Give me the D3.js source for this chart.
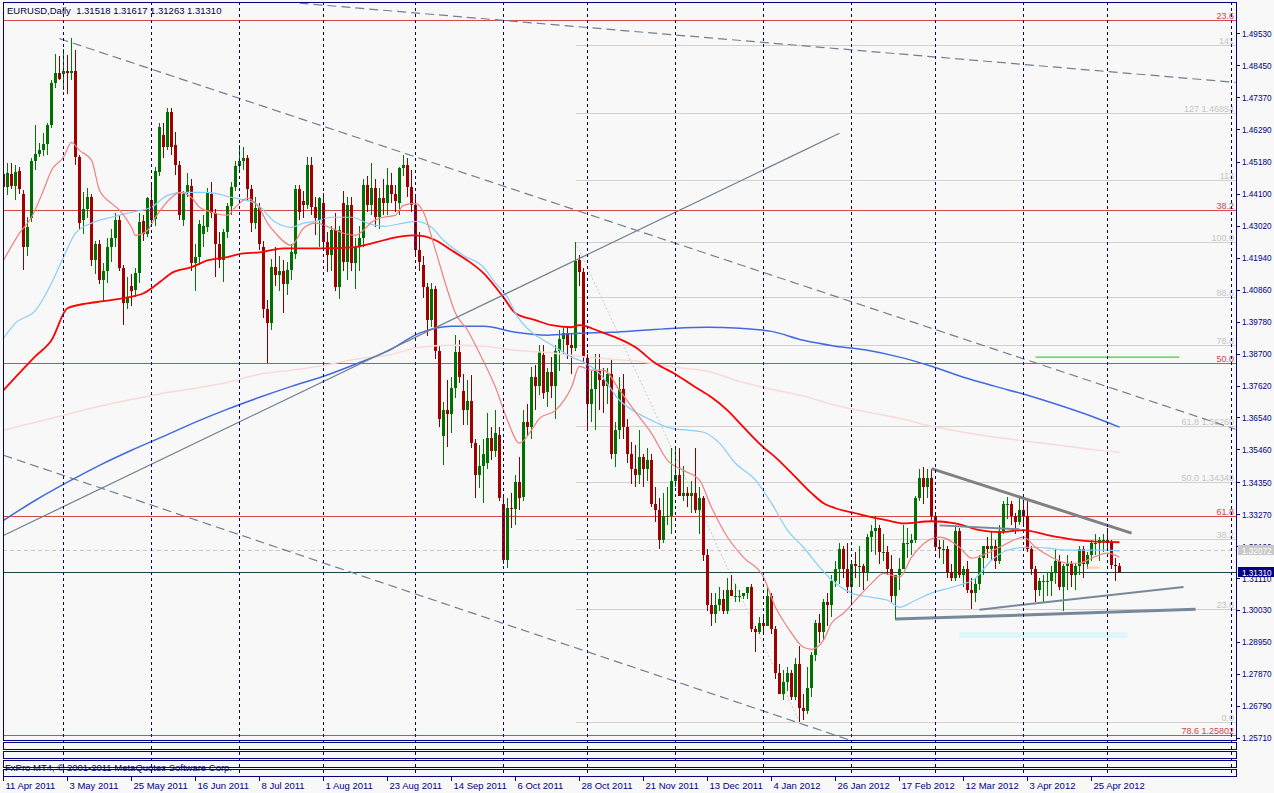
<!DOCTYPE html>
<html><head><meta charset="utf-8">
<script src="https://cdn.jsdelivr.net/npm/d3@7"></script>
<style>
html,body{margin:0;padding:0;background:#f8f8f8;overflow:hidden;}
svg{display:block;}
text{font-family:"Liberation Sans",Arial,sans-serif;white-space:pre;}
</style></head><body>
<svg id="chart" width="1274" height="793"></svg>
<script>
// ---------------- DATA ----------------
const headerText = "EURUSD,Daily  1.31518 1.31617 1.31263 1.31310";
const footerText = "FxPro MT4, \u00A9 2001-2011 MetaQuotes Software Corp.";

const openP = [
1.4476,1.4433,1.4476,1.4437,1.4488,1.4409,1.4231,1.4327,1.4520,1.4546,
1.4560,1.4580,1.4642,1.4785,1.4819,1.4817,1.4826,1.4819,1.4827,1.4535,
1.4320,1.4360,1.4400,1.4186,1.4240,1.4120,1.4150,1.4230,1.4260,1.4320,
1.4160,1.4040,1.4098,1.4085,1.4141,1.4317,1.4273,1.4390,1.4324,1.4484,
1.4610,1.4567,1.4687,1.4574,1.4507,1.4321,1.4412,1.4436,1.4175,1.4196,
1.4275,1.4298,1.4409,1.4346,1.4240,1.4186,1.4281,1.4368,1.4433,1.4503,
1.4520,1.4531,1.4425,1.4311,1.4361,1.4230,1.4022,1.3975,1.4163,1.4135,
1.4150,1.4104,1.4152,1.4208,1.4425,1.4386,1.4372,1.4507,1.4366,1.4321,
1.4378,1.4247,1.4203,1.4287,1.4095,1.4380,1.4180,1.4372,1.4176,1.4231,
1.4260,1.4439,1.4372,1.4430,1.4331,1.4395,1.4380,1.4439,1.4409,1.4378,
1.4496,1.4507,1.4433,1.4372,1.4219,1.4170,1.4096,1.3985,1.4090,1.3880,
1.3590,1.3678,1.3665,1.3752,1.3876,1.3745,1.3680,1.3710,1.3566,1.3459,
1.3490,1.3500,1.3584,1.3540,1.3594,1.3360,1.3172,1.3347,1.3345,1.3436,
1.3385,1.3639,1.3620,1.3791,1.3760,1.3864,1.3740,1.3808,1.3760,1.3880,
1.3920,1.3940,1.3900,1.3890,1.4186,1.4146,1.3860,1.3700,1.3750,1.3810,
1.3780,1.3760,1.3800,1.3530,1.3610,1.3750,1.3620,1.3530,1.3480,1.3460,
1.3520,1.3480,1.3510,1.3360,1.3340,1.3240,1.3320,1.3320,1.3440,1.3460,
1.3390,1.3400,1.3390,1.3400,1.3340,1.3380,1.3190,1.3020,1.2990,1.3020,
1.3040,1.3000,1.3070,1.3050,1.3050,1.3050,1.3060,1.3080,1.2940,1.2930,
1.2960,1.2950,1.3050,1.2940,1.2790,1.2720,1.2760,1.2790,1.2710,1.2820,
1.2670,1.2660,1.2740,1.2850,1.2960,1.2930,1.3030,1.3020,1.3100,1.3140,
1.3210,1.3140,1.3080,1.3160,1.3150,1.3150,1.3130,1.3250,1.3270,1.3280,
1.3200,1.3200,1.3140,1.3050,1.3120,1.3140,1.3230,1.3230,1.3240,1.3380,
1.3450,1.3420,1.3450,1.3320,1.3215,1.3210,1.3210,1.3130,1.3110,1.3270,
1.3120,1.3140,1.3070,1.3060,1.3090,1.3180,1.3220,1.3210,1.3220,1.3170,
1.3270,1.3360,1.3360,1.3320,1.3300,1.3340,1.3320,1.3210,1.3140,1.3070,
1.3100,1.3100,1.3100,1.3130,1.3170,1.3080,1.3150,1.3160,1.3120,1.3150,
1.3210,1.3160,1.3190,1.3230,1.3230,1.3240,1.3240,1.3236,1.3154,1.31518];

const highP = [
1.4513,1.4514,1.4514,1.4507,1.4501,1.4422,1.4332,1.4531,1.4642,1.4581,
1.4615,1.4649,1.4794,1.4882,1.4875,1.4901,1.4879,1.4938,1.4896,1.4540,
1.4415,1.4430,1.4410,1.4250,1.4255,1.4175,1.4260,1.4290,1.4345,1.4340,
1.4170,1.4130,1.4140,1.4160,1.4345,1.4340,1.4400,1.4450,1.4500,1.4650,
1.4650,1.4700,1.4700,1.4620,1.4520,1.4420,1.4480,1.4460,1.4240,1.4320,
1.4340,1.4430,1.4450,1.4360,1.4280,1.4290,1.4380,1.4450,1.4520,1.4574,
1.4569,1.4540,1.4440,1.4400,1.4380,1.4250,1.4050,1.4190,1.4230,1.4200,
1.4186,1.4180,1.4240,1.4440,1.4440,1.4420,1.4535,1.4535,1.4400,1.4400,
1.4412,1.4280,1.4300,1.4344,1.4300,1.4420,1.4400,1.4400,1.4260,1.4300,
1.4460,1.4470,1.4514,1.4460,1.4430,1.4460,1.4496,1.4480,1.4440,1.4500,
1.4540,1.4530,1.4490,1.4400,1.4280,1.4200,1.4110,1.4110,1.4100,1.3900,
1.3705,1.3780,1.3790,1.3932,1.3915,1.3800,1.3780,1.3797,1.3580,1.3560,
1.3580,1.3669,1.3620,1.3678,1.3620,1.3390,1.3380,1.3400,1.3460,1.3521,
1.3678,1.3700,1.3825,1.3830,1.3900,1.3900,1.3820,1.3860,1.3900,1.3950,
1.3960,1.3960,1.3940,1.4247,1.4202,1.4160,1.3870,1.3810,1.3870,1.3870,
1.3820,1.3820,1.3850,1.3640,1.3790,1.3800,1.3650,1.3570,1.3560,1.3610,
1.3530,1.3550,1.3530,1.3420,1.3380,1.3400,1.3420,1.3550,1.3550,1.3550,
1.3490,1.3420,1.3440,1.3550,1.3420,1.3390,1.3210,1.3060,1.3060,1.3080,
1.3070,1.3110,1.3120,1.3090,1.3070,1.3060,1.3080,1.3090,1.2950,1.2980,
1.2990,1.3080,1.3060,1.2950,1.2820,1.2800,1.2810,1.2800,1.2840,1.2880,
1.2720,1.2810,1.2860,1.2970,1.2990,1.3040,1.3060,1.3120,1.3170,1.3230,
1.3220,1.3230,1.3170,1.3200,1.3220,1.3160,1.3260,1.3290,1.3320,1.3290,
1.3260,1.3220,1.3190,1.3120,1.3180,1.3290,1.3280,1.3260,1.3390,1.3480,
1.3486,1.3480,1.3480,1.3330,1.3240,1.3240,1.3220,1.3160,1.3290,1.3280,
1.3150,1.3170,1.3110,1.3110,1.3190,1.3220,1.3250,1.3270,1.3240,1.3290,
1.3370,1.3385,1.3370,1.3330,1.3385,1.3370,1.3370,1.3220,1.3150,1.3110,
1.3120,1.3130,1.3150,1.3210,1.3190,1.3160,1.3190,1.3170,1.3160,1.3220,
1.3220,1.3200,1.3240,1.3260,1.3250,1.3260,1.3280,1.3240,1.3180,1.31617];

const lowP = [
1.4417,1.4405,1.4428,1.4389,1.4411,1.4154,1.4199,1.4314,1.4490,1.4535,
1.4537,1.4540,1.4632,1.4767,1.4794,1.4760,1.4749,1.4794,1.4507,1.4287,
1.4276,1.4330,1.4165,1.4140,1.4105,1.4045,1.4110,1.4180,1.4230,1.4150,
1.3966,1.4020,1.4030,1.4060,1.4110,1.4250,1.4265,1.4310,1.4300,1.4470,
1.4530,1.4560,1.4540,1.4473,1.4320,1.4300,1.4400,1.4150,1.4080,1.4170,
1.4230,1.4280,1.4330,1.4129,1.4160,1.4112,1.4260,1.4340,1.4420,1.4480,
1.4490,1.4390,1.4280,1.4290,1.4220,1.3990,1.3837,1.3950,1.4100,1.4080,
1.4006,1.4067,1.4120,1.4190,1.4321,1.4330,1.4360,1.4340,1.4270,1.4230,
1.4225,1.4146,1.4150,1.4080,1.4053,1.4150,1.4120,1.4150,1.4090,1.4150,
1.4230,1.4350,1.4340,1.4298,1.4290,1.4340,1.4340,1.4380,1.4350,1.4340,
1.4470,1.4400,1.4350,1.4200,1.4150,1.4057,1.3930,1.3960,1.3850,1.3622,
1.3493,1.3554,1.3600,1.3720,1.3770,1.3630,1.3630,1.3550,1.3380,1.3415,
1.3364,1.3480,1.3510,1.3520,1.3370,1.3160,1.3145,1.3280,1.3290,1.3340,
1.3370,1.3590,1.3580,1.3680,1.3730,1.3715,1.3690,1.3720,1.3650,1.3810,
1.3870,1.3850,1.3800,1.3880,1.4100,1.3840,1.3610,1.3640,1.3610,1.3680,
1.3670,1.3700,1.3515,1.3485,1.3580,1.3580,1.3500,1.3430,1.3420,1.3430,
1.3420,1.3440,1.3350,1.3300,1.3210,1.3230,1.3290,1.3260,1.3420,1.3390,
1.3370,1.3350,1.3330,1.3330,1.3260,1.3170,1.3000,1.2950,1.2960,1.3000,
1.2990,1.2990,1.3050,1.3030,1.3030,1.3040,1.3040,1.2930,1.2860,1.2920,
1.2930,1.2950,1.2920,1.2770,1.2720,1.2700,1.2730,1.2700,1.2700,1.2624,
1.2630,1.2650,1.2710,1.2830,1.2890,1.2900,1.2950,1.2980,1.3080,1.3090,
1.3110,1.3060,1.3020,1.3110,1.3080,1.3070,1.3100,1.3200,1.3190,1.3160,
1.3170,1.3120,1.3030,1.2970,1.3070,1.3140,1.3180,1.3190,1.3230,1.3370,
1.3360,1.3380,1.3300,1.3210,1.3180,1.3160,1.3110,1.3100,1.3100,1.3110,
1.3080,1.3060,1.3005,1.3030,1.3070,1.3120,1.3180,1.3170,1.3140,1.3160,
1.3260,1.3310,1.3290,1.3260,1.3290,1.3290,1.3200,1.3120,1.3030,1.3050,
1.3030,1.3050,1.3050,1.3090,1.3070,1.3000,1.3070,1.3080,1.3070,1.3120,
1.3110,1.3140,1.3170,1.3190,1.3170,1.3200,1.3210,1.3140,1.3100,1.31263];

const closeP = [
1.4433,1.4479,1.4437,1.4484,1.4425,1.4231,1.4298,1.4520,1.4546,1.4560,
1.4580,1.4642,1.4785,1.4819,1.4800,1.4826,1.4819,1.4827,1.4535,1.4312,
1.4360,1.4400,1.4186,1.4240,1.4120,1.4150,1.4230,1.4260,1.4320,1.4160,
1.4040,1.4057,1.4082,1.4142,1.4315,1.4273,1.4395,1.4320,1.4486,1.4636,
1.4570,1.4687,1.4570,1.4507,1.4338,1.4409,1.4439,1.4175,1.4197,1.4307,
1.4300,1.4412,1.4346,1.4240,1.4186,1.4281,1.4368,1.4433,1.4503,1.4520,
1.4530,1.4425,1.4311,1.4361,1.4240,1.4022,1.3975,1.4163,1.4135,1.4150,
1.4104,1.4152,1.4214,1.4425,1.4349,1.4372,1.4507,1.4366,1.4330,1.4395,
1.4247,1.4203,1.4287,1.4095,1.4287,1.4180,1.4372,1.4176,1.4231,1.4260,
1.4439,1.4372,1.4430,1.4331,1.4395,1.4380,1.4439,1.4409,1.4385,1.4496,
1.4507,1.4433,1.4372,1.4219,1.4180,1.4096,1.3985,1.4090,1.3880,1.3650,
1.3678,1.3665,1.3752,1.3876,1.3790,1.3680,1.3710,1.3566,1.3459,1.3490,
1.3530,1.3584,1.3540,1.3600,1.3380,1.3172,1.3347,1.3345,1.3436,1.3380,
1.3639,1.3620,1.3791,1.3760,1.3880,1.3735,1.3808,1.3760,1.3880,1.3920,
1.3940,1.3900,1.3890,1.4183,1.4146,1.3858,1.3700,1.3750,1.3810,1.3780,
1.3760,1.3800,1.3530,1.3610,1.3750,1.3620,1.3530,1.3480,1.3460,1.3520,
1.3480,1.3510,1.3360,1.3340,1.3240,1.3320,1.3320,1.3440,1.3460,1.3390,
1.3400,1.3390,1.3400,1.3340,1.3380,1.3190,1.3020,1.2990,1.3020,1.3040,
1.3000,1.3070,1.3050,1.3050,1.3050,1.3060,1.3080,1.2940,1.2930,1.2960,
1.2950,1.3050,1.2940,1.2790,1.2720,1.2760,1.2790,1.2710,1.2820,1.2670,
1.2660,1.2740,1.2850,1.2960,1.2930,1.3030,1.3020,1.3100,1.3140,1.3210,
1.3140,1.3080,1.3160,1.3150,1.3150,1.3130,1.3250,1.3270,1.3280,1.3200,
1.3200,1.3140,1.3050,1.3120,1.3140,1.3230,1.3230,1.3240,1.3380,1.3450,
1.3420,1.3450,1.3320,1.3215,1.3210,1.3210,1.3130,1.3110,1.3270,1.3120,
1.3140,1.3070,1.3060,1.3090,1.3180,1.3220,1.3210,1.3220,1.3170,1.3270,
1.3360,1.3360,1.3320,1.3300,1.3340,1.3320,1.3210,1.3140,1.3070,1.3100,
1.3100,1.3100,1.3130,1.3170,1.3080,1.3150,1.3160,1.3120,1.3150,1.3210,
1.3160,1.3190,1.3230,1.3230,1.3240,1.3240,1.3230,1.3154,1.3152,1.31310];

// moving averages: [bar index, price]
const maFast = [[0,1.4185],[4,1.4277],[7,1.4331],[10,1.4422],[12,1.4490],[15,1.4534],[17,1.4584],[19,1.4557],[22,1.4524],[24,1.4422],[27,1.4378],[29,1.4355],[32,1.4297],[33,1.4270],[36,1.4287],[38,1.4331],[42,1.4398],[44,1.4415],[47,1.4398],[49,1.4365],[52,1.4348],[56,1.4338],[58,1.4365],[61,1.4395],[64,1.4361],[66,1.4311],[68,1.4277],[72,1.4236],[75,1.4294],[78,1.4311],[82,1.4294],[85,1.4277],[88,1.4270],[90,1.4287],[92,1.4314],[95,1.4331],[98,1.4338],[100,1.4371],[103,1.4378],[105,1.4348],[108,1.4219],[111,1.4084],[113,1.4006],[116,1.3949],[119,1.3871],[123,1.3756],[126,1.3644],[129,1.3567],[132,1.3611],[134,1.3651],[138,1.3678],[142,1.3756],[144,1.3827],[147,1.3814],[150,1.3814],[154,1.3746],[158,1.3672],[162,1.3600],[166,1.3509],[170,1.3475],[174,1.3442],[177,1.3350],[181,1.3249],[185,1.3181],[190,1.3114],[193,1.3012],[196,1.2945],[200,1.2877],[202,1.2870],[205,1.2901],[207,1.2958],[210,1.2992],[213,1.3036],[217,1.3093],[220,1.3127],[224,1.3114],[227,1.3181],[234,1.3249],[239,1.3215],[242,1.3178],[246,1.3195],[250,1.3222],[255,1.3249],[258,1.3215],[262,1.3181],[266,1.3161],[269,1.3161],[272,1.3178],[276,1.3195],[279,1.3181]];
const maMid = [[0,1.3922],[3,1.3973],[8,1.4016],[12,1.4108],[15,1.4196],[18,1.4277],[22,1.4311],[27,1.4331],[32,1.4348],[37,1.4365],[41,1.4405],[45,1.4415],[51,1.4415],[57,1.4398],[63,1.4378],[68,1.4314],[72,1.4297],[75,1.4311],[78,1.4317],[82,1.4331],[87,1.4331],[91,1.4311],[95,1.4300],[100,1.4311],[103,1.4317],[107,1.4297],[110,1.4253],[115,1.4202],[120,1.4162],[123,1.4108],[126,1.4060],[128,1.4006],[132,1.3942],[135,1.3915],[138,1.3891],[142,1.3858],[145,1.3841],[149,1.3803],[154,1.3712],[158,1.3672],[162,1.3644],[167,1.3617],[171,1.3611],[175,1.3604],[179,1.3567],[183,1.3499],[188,1.3442],[192,1.3364],[196,1.3273],[200,1.3215],[204,1.3148],[208,1.3093],[212,1.3060],[217,1.3046],[221,1.3036],[224,1.3012],[228,1.3036],[232,1.3060],[238,1.3083],[243,1.3110],[247,1.3171],[251,1.3205],[256,1.3215],[261,1.3212],[266,1.3205],[271,1.3205],[276,1.3205],[279,1.3202]];
const maSlow = [[0,1.3746],[8,1.3861],[12,1.3915],[16,1.4023],[21,1.4040],[25,1.4047],[31,1.4060],[35,1.4074],[39,1.4111],[42,1.4142],[47,1.4162],[51,1.4185],[56,1.4196],[60,1.4209],[64,1.4212],[70,1.4226],[80,1.4226],[87,1.4229],[93,1.4246],[98,1.4263],[102,1.4270],[105,1.4267],[108,1.4253],[112,1.4219],[116,1.4185],[120,1.4142],[125,1.4060],[128,1.4006],[133,1.3983],[137,1.3966],[142,1.3959],[144,1.3966],[149,1.3945],[158,1.3891],[163,1.3837],[168,1.3800],[173,1.3756],[177,1.3722],[181,1.3678],[185,1.3621],[190,1.3553],[193,1.3519],[198,1.3452],[202,1.3398],[205,1.3364],[208,1.3347],[213,1.3330],[217,1.3317],[221,1.3306],[225,1.3296],[232,1.3303],[238,1.3296],[244,1.3273],[249,1.3266],[255,1.3273],[261,1.3256],[267,1.3242],[272,1.3235],[279,1.3232]];
const maLong = [[0,1.3306],[8,1.3374],[16,1.3435],[24,1.3492],[32,1.3543],[40,1.3590],[48,1.3638],[56,1.3682],[64,1.3722],[72,1.3759],[80,1.3793],[88,1.3834],[96,1.3878],[104,1.3939],[112,1.3962],[120,1.3962],[128,1.3942],[136,1.3932],[144,1.3939],[152,1.3942],[160,1.3949],[168,1.3956],[176,1.3959],[184,1.3956],[192,1.3945],[200,1.3915],[208,1.3895],[216,1.3881],[224,1.3858],[232,1.3827],[240,1.3790],[248,1.3759],[256,1.3729],[264,1.3695],[272,1.3658],[279,1.3621]];
const maYear = [[0,1.3611],[8,1.3638],[16,1.3665],[24,1.3692],[32,1.3715],[40,1.3736],[48,1.3753],[56,1.3773],[64,1.3800],[72,1.3814],[80,1.3830],[88,1.3851],[96,1.3864],[104,1.3891],[112,1.3898],[120,1.3895],[128,1.3881],[136,1.3874],[144,1.3861],[152,1.3851],[160,1.3841],[168,1.3824],[176,1.3810],[184,1.3776],[192,1.3749],[200,1.3726],[208,1.3695],[216,1.3672],[224,1.3651],[232,1.3624],[240,1.3604],[248,1.3587],[256,1.3573],[264,1.3560],[272,1.3546],[279,1.3536]];

// drawn objects: anchors as [bar index, price]
const tlTop = [[74,1.5055],[308,1.4787]];
const tlChannelUp = [[14,1.4935],[308,1.3614]];
const tlChannelDown = [[0,1.3526],[212,1.2561]];
const tlRising = [[0,1.3255],[209,1.4615]];
const tlTriTop = [[232,1.3481],[282,1.3263]];
const tlTriLow = [[244,1.3004],[295,1.3081]];
const tlBase = [[223,1.2972],[298,1.3005]];
const tlShort = [[234,1.3289],[254,1.3276]];
const tlSalmon = [[271,1.3146],[274,1.3146]];
const tlGreen = [[258,1.3858],[294,1.3858]];
const fibDiag = [[143,1.4247],[199,1.2624]];
const cyanZone = [[239,1.2928],[281,1.2908]];

const fibRedLevels = [1.4999,1.4357,1.3838,1.3320,1.2580];
const fibRedLabels = ["23.6","38.2","50.0","61.8","78.6 1.25802"];
const fibGreyStartBar = 143;
const fibGreyLevels = [1.2624,1.3007,1.3244,1.3435,1.3626,1.3900,1.4062,1.4247,1.4457,1.4685,1.4912];
const fibGreyLabels = ["0.0","23.6","38.2","50.0 1.34348","61.8 1.36260","78.6","88.6","100.0","113","127 1.46854","141"];

const bidLine = 1.32072;
const lastPrice = 1.31310;

const priceTicks = [1.49530,1.48450,1.47370,1.46290,1.45180,1.44100,1.43020,1.41940,1.40860,1.39780,1.38700,1.37620,1.36540,1.35460,1.34350,1.33270,1.32190,1.31110,1.30030,1.28950,1.27870,1.26790,1.25710];
const dateLabels = ["11 Apr 2011","3 May 2011","25 May 2011","16 Jun 2011","8 Jul 2011","1 Aug 2011","23 Aug 2011","14 Sep 2011","6 Oct 2011","28 Oct 2011","21 Nov 2011","13 Dec 2011","4 Jan 2012","26 Jan 2012","17 Feb 2012","12 Mar 2012","3 Apr 2012","25 Apr 2012"];
const dateLabelBars = [0,16,32,48,64,80,96,112,128,144,160,176,192,208,224,240,256,272];
const monthSepBars = [15,37,59,80,103,125,146,168,190,212,233,255,276,307];

// ---------------- LAYOUT / STYLE ----------------
const W = 1274, H = 793;
const P = {l:3, t:2, r:1236, b:740};
const subWins = [[742,749],[751,758],[760,767],[769,776]];
const navy = "#000080";
const bg = "#f8f8f8";
const FS = 9;
const AXFS = 9.5;
const AXW = 29.5;

const svg = d3.select("#chart");
const x = d3.scaleLinear().domain([0, 1]).range([3.5, 7.5]);
const y = d3.scaleLinear().domain([1.49530, 1.25710]).range([33.3, 737.7]);

svg.append("rect").attr("width", W).attr("height", H).attr("fill", bg);

const defs = svg.append("defs");
defs.append("clipPath").attr("id", "pc").append("rect")
  .attr("x", P.l).attr("y", P.t).attr("width", P.r - P.l).attr("height", P.b - P.t);

const plot = svg.append("g").attr("clip-path", "url(#pc)");

// month separators (grid)
svg.append("g").selectAll("line").data(monthSepBars).join("line")
  .attr("x1", d => x(d)).attr("x2", d => x(d))
  .attr("y1", P.t).attr("y2", subWins[3][1])
  .attr("stroke", navy).attr("stroke-width", 1).attr("stroke-dasharray", "3,3")
  .attr("shape-rendering", "crispEdges");

// cyan zone
plot.append("rect")
  .attr("x", x(cyanZone[0][0])).attr("width", x(cyanZone[1][0]) - x(cyanZone[0][0]))
  .attr("y", y(cyanZone[0][1])).attr("height", y(cyanZone[1][1]) - y(cyanZone[0][1]))
  .attr("fill", "#dff7fa");

// grey fibo levels
plot.append("g").selectAll("line").data(fibGreyLevels).join("line")
  .attr("x1", x(fibGreyStartBar)).attr("x2", P.r)
  .attr("y1", d => Math.round(y(d)) + 0.5).attr("y2", d => Math.round(y(d)) + 0.5)
  .attr("stroke", "#d0d0d0").attr("stroke-width", 1).attr("shape-rendering", "crispEdges");
plot.append("g").selectAll("text").data(fibGreyLevels).join("text")
  .attr("x", P.r - 2).attr("y", d => Math.round(y(d)) - 1)
  .attr("text-anchor", "end").attr("font-size", FS).attr("fill", "#c4c4c4")
  .text((d, i) => fibGreyLabels[i]);

// fib diagonal
plot.append("line")
  .attr("x1", x(fibDiag[0][0])).attr("y1", y(fibDiag[0][1]))
  .attr("x2", x(fibDiag[1][0])).attr("y2", y(fibDiag[1][1]))
  .attr("stroke", "#c8c8c8").attr("stroke-width", 1).attr("stroke-dasharray", "2,2");

// red fibo levels
plot.append("g").selectAll("line").data(fibRedLevels).join("line")
  .attr("x1", P.l).attr("x2", P.r)
  .attr("y1", d => Math.round(y(d)) + 0.5).attr("y2", d => Math.round(y(d)) + 0.5)
  .attr("stroke", "#d24a4a").attr("stroke-width", 1).attr("shape-rendering", "crispEdges");
plot.append("g").selectAll("text").data(fibRedLevels).join("text")
  .attr("x", P.r - 2).attr("y", d => Math.round(y(d)) - 1)
  .attr("text-anchor", "end").attr("font-size", FS).attr("fill", "#d04545")
  .text((d, i) => fibRedLabels[i]);

// bid dashed line & last price line
plot.append("line").attr("x1", P.l).attr("x2", P.r)
  .attr("y1", Math.round(y(bidLine)) + 0.5).attr("y2", Math.round(y(bidLine)) + 0.5)
  .attr("stroke", "#c8c8c8").attr("stroke-dasharray", "4,3").attr("shape-rendering", "crispEdges");
plot.append("line").attr("x1", P.l).attr("x2", P.r)
  .attr("y1", Math.round(y(lastPrice)) + 0.5).attr("y2", Math.round(y(lastPrice)) + 0.5)
  .attr("stroke", "#1e4646").attr("shape-rendering", "crispEdges");

// candles
const bars = d3.range(openP.length).map(i => ({i, o: openP[i], h: highP[i], l: lowP[i], c: closeP[i]}));
const cg = plot.append("g").attr("shape-rendering", "crispEdges");
cg.selectAll("line").data(bars).join("line")
  .attr("x1", d => x(d.i)).attr("x2", d => x(d.i))
  .attr("y1", d => y(d.h)).attr("y2", d => y(d.l))
  .attr("stroke", d => d.c >= d.o ? "#007a00" : "#8b0000").attr("stroke-width", 1);
cg.selectAll("rect").data(bars).join("rect")
  .attr("x", d => x(d.i) - 1.5).attr("width", 3)
  .attr("y", d => Math.round(y(Math.max(d.o, d.c))))
  .attr("height", d => Math.max(1, Math.round(y(Math.min(d.o, d.c))) - Math.round(y(Math.max(d.o, d.c)))))
  .attr("fill", d => d.c >= d.o ? "#007000" : "#a00000");

// moving averages
const lineGen = d3.line().x(d => x(d[0])).y(d => y(d[1])).curve(d3.curveMonotoneX);
const maStyles = [
  [maYear, "#fbd9d9", 1.5],
  [maLong, "#4169e1", 1.5],
  [maSlow, "#ff0000", 1.8],
  [maMid, "#87cefa", 1.2],
  [maFast, "#f08080", 1.2]
];
maStyles.forEach(([d, col, w]) => {
  plot.append("path").datum(d).attr("d", lineGen)
    .attr("fill", "none").attr("stroke", col).attr("stroke-width", w);
});

// trend lines
function seg(pts, col, w, dash) {
  plot.append("line")
    .attr("x1", x(pts[0][0])).attr("y1", y(pts[0][1]))
    .attr("x2", x(pts[1][0])).attr("y2", y(pts[1][1]))
    .attr("stroke", col).attr("stroke-width", w)
    .attr("stroke-dasharray", dash || null);
}
seg(tlTop, "#708090", 1.2, "9,5");
seg(tlChannelUp, "#708090", 1.2, "9,5");
seg(tlChannelDown, "#708090", 1.2, "9,5");
seg(tlRising, "#708090", 1.2);
seg(tlTriTop, "#808080", 3);
seg(tlTriLow, "#778899", 2);
seg(tlBase, "#778899", 3);
seg(tlShort, "#778899", 2);
seg(tlSalmon, "#ffd0a0", 2);
seg(tlGreen, "#22bb22", 1);

// frames
svg.append("rect").attr("x", P.l + 0.5).attr("y", P.t + 0.5)
  .attr("width", P.r - P.l).attr("height", P.b - P.t)
  .attr("fill", "none").attr("stroke", navy).attr("shape-rendering", "crispEdges");
subWins.forEach(([a, b]) => {
  svg.append("rect").attr("x", P.l + 0.5).attr("y", a + 0.5)
    .attr("width", P.r - P.l).attr("height", b - a)
    .attr("fill", "none").attr("stroke", navy).attr("shape-rendering", "crispEdges");
});

// header & footer text
svg.append("text").attr("x", 7).attr("y", 14).attr("font-size", FS + 0.5).attr("fill", "#000040").text(headerText);
svg.append("text").attr("x", 5).attr("y", 771).attr("font-size", FS + 0.5).attr("fill", navy).text(footerText);

// price axis
const pa = svg.append("g");
pa.selectAll("line").data(priceTicks).join("line")
  .attr("x1", P.r).attr("x2", P.r + 4)
  .attr("y1", d => Math.round(y(d)) + 0.5).attr("y2", d => Math.round(y(d)) + 0.5)
  .attr("stroke", navy).attr("shape-rendering", "crispEdges");
pa.selectAll("text").data(priceTicks).join("text")
  .attr("x", P.r + 6).attr("y", d => y(d) + 3.5)
  .attr("font-size", AXFS).attr("fill", navy)
  .attr("textLength", AXW).attr("lengthAdjust", "spacingAndGlyphs")
  .text(d => d.toFixed(5));

// current price boxes
[[bidLine, "#c8c8c8"], [lastPrice, navy]].forEach(([p, col]) => {
  const yy = Math.round(y(p));
  svg.append("rect").attr("x", P.r + 2).attr("y", yy - 5).attr("width", W - P.r - 2).attr("height", 10).attr("fill", col);
  svg.append("text").attr("x", P.r + 6).attr("y", yy + 3.5).attr("font-size", AXFS).attr("fill", "#ffffff")
    .attr("textLength", AXW).attr("lengthAdjust", "spacingAndGlyphs").text(p.toFixed(5));
});

// time axis
const ta = svg.append("g");
ta.selectAll("line").data(dateLabelBars).join("line")
  .attr("x1", d => x(d)).attr("x2", d => x(d))
  .attr("y1", subWins[3][1]).attr("y2", subWins[3][1] + 5)
  .attr("stroke", navy).attr("shape-rendering", "crispEdges");
ta.selectAll("text").data(dateLabelBars).join("text")
  .attr("x", d => x(d) + 2).attr("y", 789)
  .attr("font-size", FS + 0.5).attr("fill", navy)
  .text((d, i) => dateLabels[i]);
</script>
</body></html>
